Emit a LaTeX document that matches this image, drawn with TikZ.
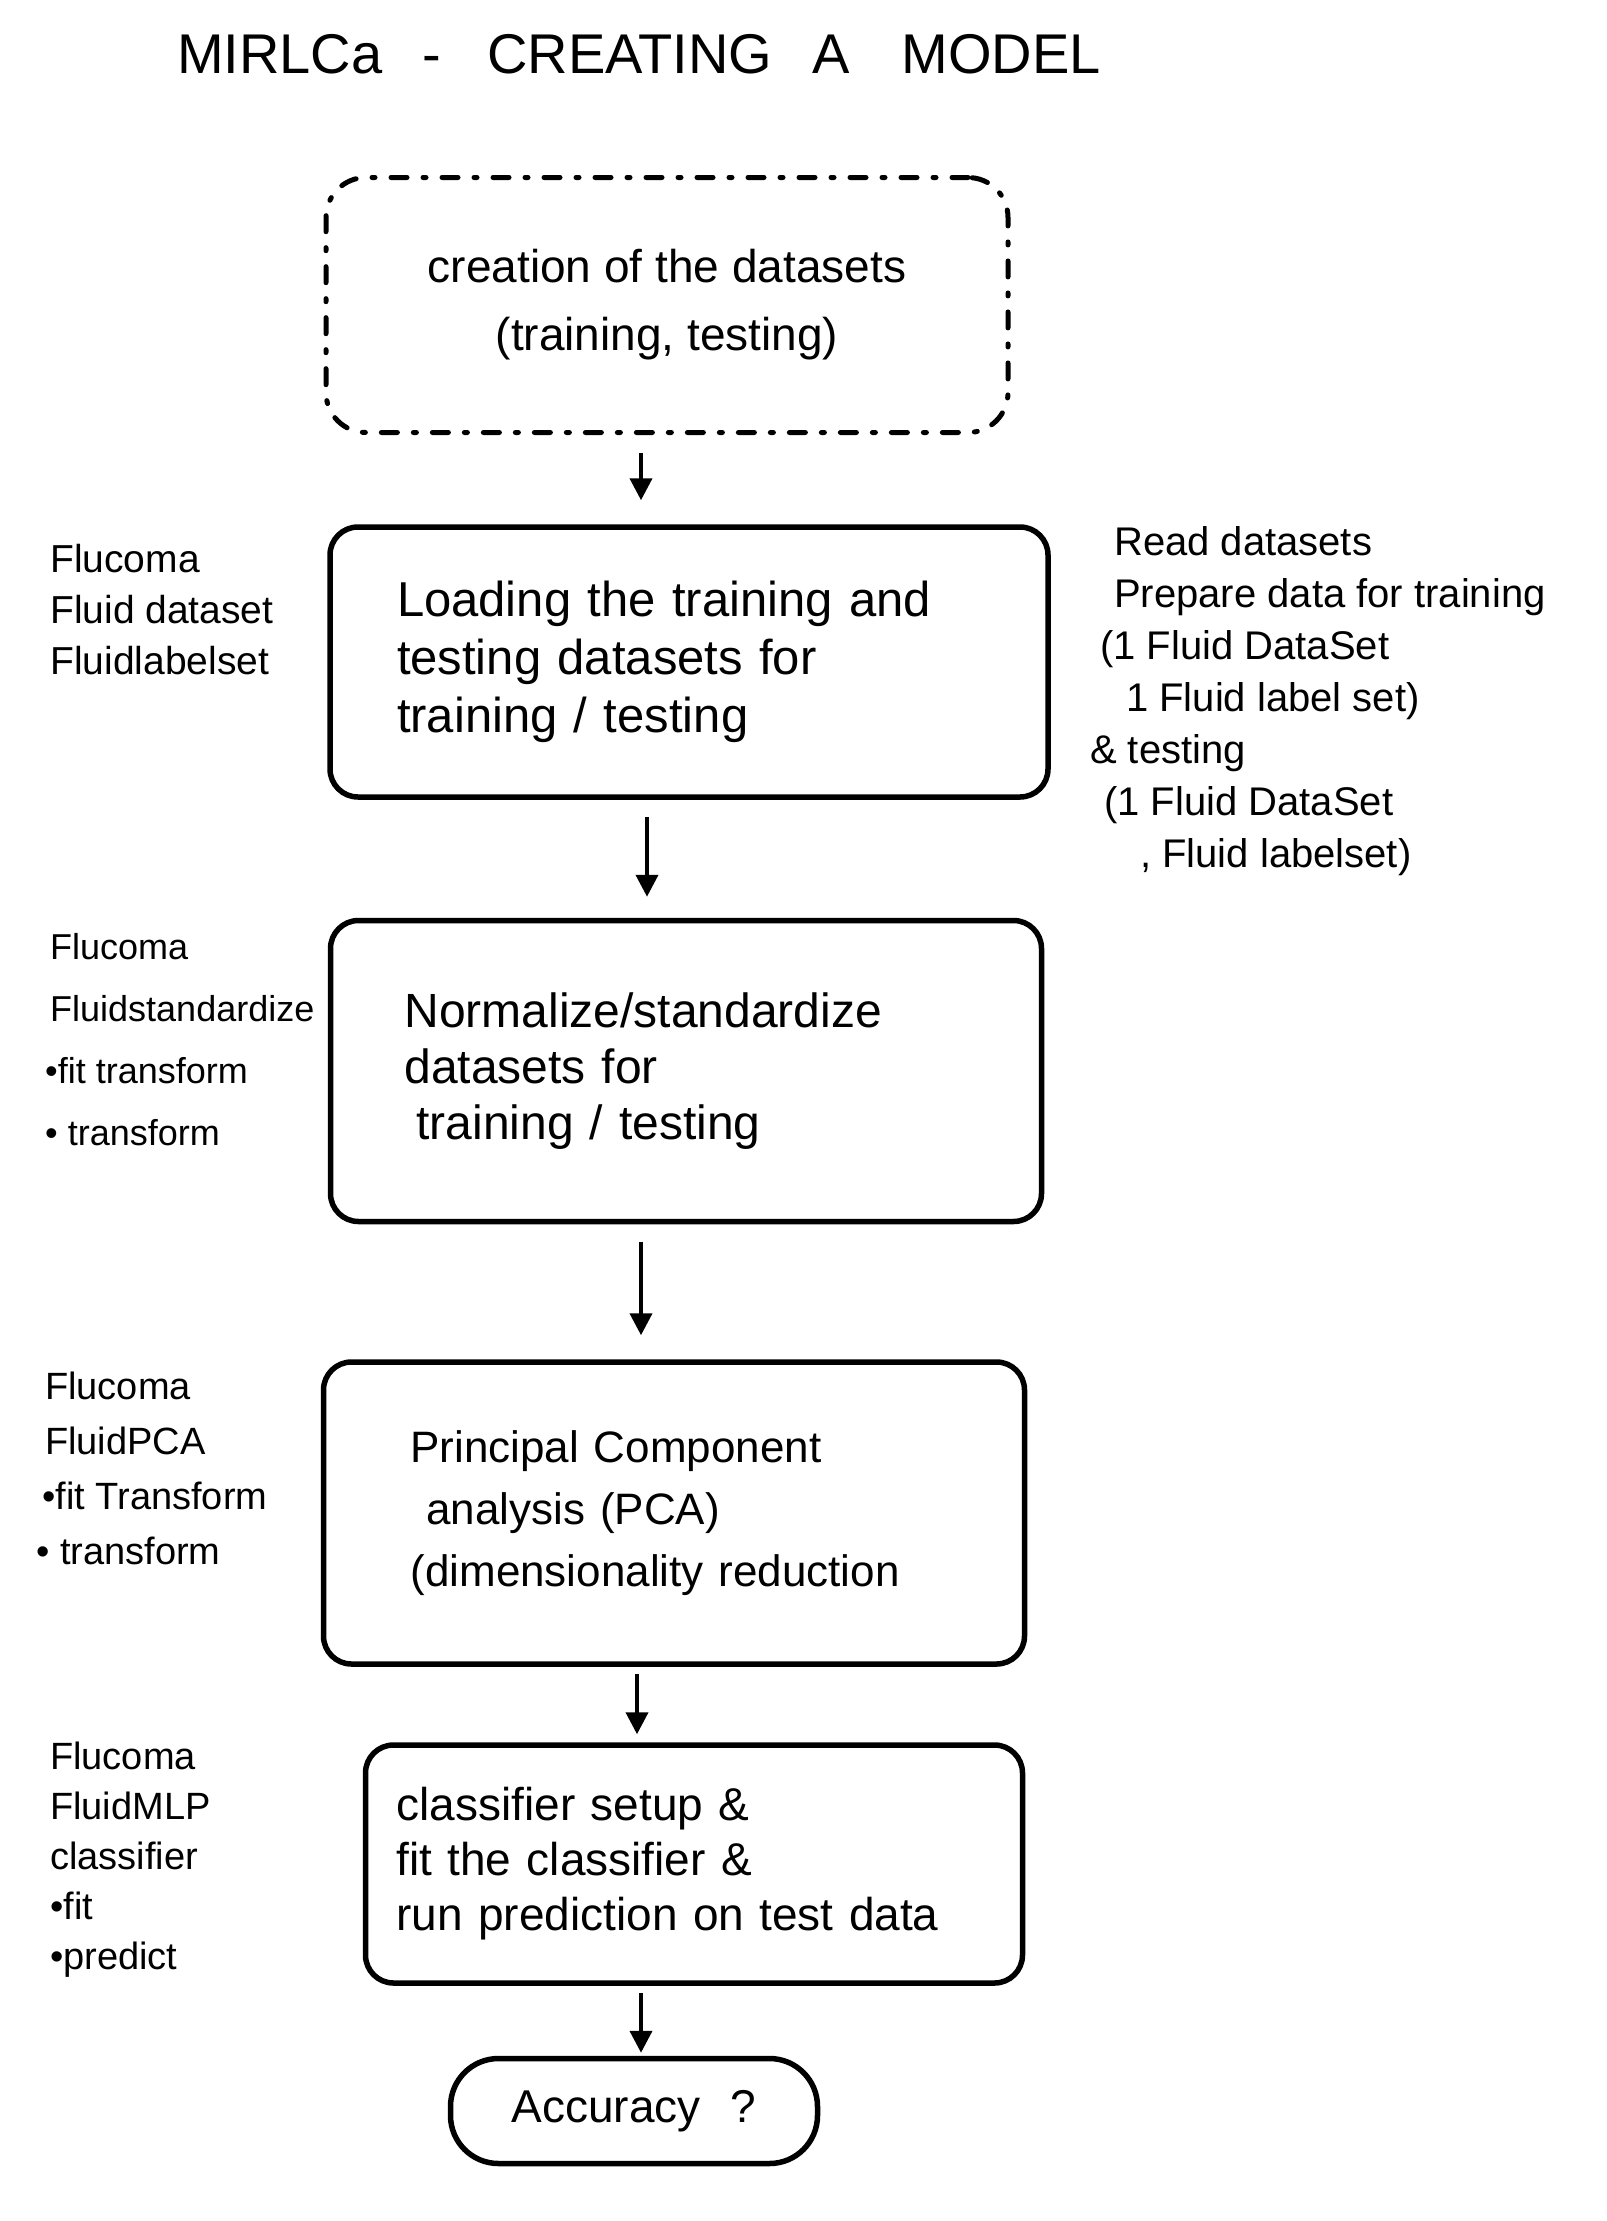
\documentclass[tikz,border=0pt]{standalone}
\usepackage{fontspec}
\setmainfont{Liberation Sans}
\usetikzlibrary{arrows.meta}
\tikzset{
  boxstyle/.style={draw, line width=5.5pt, rounded corners=28pt, align=left, anchor=center},
  dashbox/.style={draw, line width=5pt, line cap=round, rounded corners=40pt,
     dash pattern=on 16pt off 16pt on 3pt off 16pt, align=center,
     font=\fontsize{46}{68}\selectfont},
  sidelabel/.style={align=left, anchor=west, inner sep=0pt},
  arr/.style={line width=4pt, -{Triangle[length=22pt,width=22pt]}},
}
\begin{document}
\begin{tikzpicture}[x=1pt,y=-1pt]
\useasboundingbox (0,0) rectangle (1606,2221);
\fill[white] (0,0) rectangle (1606,2221);

% title
\node[anchor=west, inner sep=0pt, font=\fontsize{56}{60}\selectfont] (title) at (177,54)
  {MIRLCa\hspace{40pt}-\hspace{46pt}CREATING\hspace{40pt}A\hspace{52pt}MODEL};

% boxes
\node[dashbox, minimum width=682pt, minimum height=255pt] (b1) at (667,305)
  {creation of the datasets\\(training, testing)};

\node[boxstyle, font=\fontsize{49}{58}\selectfont, inner xsep=67pt, text width=584pt, minimum height=270pt] (b2) at (689,662)
  {Loading the training and\\testing datasets for\\training / testing};

\node[boxstyle, font=\fontsize{48}{56}\selectfont, inner xsep=74pt, text width=563pt, minimum height=301pt] (b3) at (686,1071)
  {Normalize/standardize\\datasets for\\\hspace*{12pt}training / testing};

\node[boxstyle, font=\fontsize{44}{62}\selectfont, inner xsep=87pt, text width=527pt, minimum height=302pt] (b4) at (674,1513)
  {Principal Component\\\hspace*{16pt}analysis (PCA)\\(dimensionality reduction};

\node[boxstyle, font=\fontsize{46}{55}\selectfont, inner xsep=31pt, text width=595pt, minimum height=238pt] (b5) at (694,1864)
  {classifier setup \&\\fit the classifier \&\\run prediction on test data};

\node[draw, line width=5.5pt, rounded corners=48pt, minimum width=367pt, minimum height=105pt,
      font=\fontsize{46}{58}\selectfont] (b6) at (634,2111)
  {Accuracy\hspace{30pt}?};

% arrows
\coordinate (ax1) at (641,0);
\coordinate (ax2) at (647,0);
\coordinate (ax4) at (637,0);
\draw[arr, shorten <=18pt, shorten >=24pt] (b1.south -| ax1) -- (b2.north -| ax1);
\draw[arr, shorten <=17pt, shorten >=21pt] (b2.south -| ax2) -- (b3.north -| ax2);
\draw[arr, shorten <=18pt, shorten >=24pt] (b3.south -| ax1) -- (b4.north -| ax1);
\draw[arr, shorten <=7pt, shorten >=8pt] (b4.south -| ax4) -- (b5.north -| ax4);
\draw[arr, shorten <=7pt, shorten >=3pt] (b5.south -| ax1) -- (b6.north -| ax1);

% left labels
\node[sidelabel, font=\fontsize{39}{51}\selectfont] (l1) at (50,610)
  {Flucoma\\Fluid dataset\\Fluidlabelset};
\node[sidelabel, font=\fontsize{36}{62}\selectfont] (l2) at (45,1040)
  {\hspace*{5pt}Flucoma\\\hspace*{5pt}Fluidstandardize\\•fit transform\\• transform};
\node[sidelabel, font=\fontsize{38}{55}\selectfont] (l3) at (36,1468)
  {\hspace*{9pt}Flucoma\\\hspace*{9pt}FluidPCA\\\hspace*{6pt}•fit Transform\\• transform};
\node[sidelabel, font=\fontsize{38}{50}\selectfont] (l4) at (50,1860)
  {Flucoma\\FluidMLP\\classifier\\•fit\\•predict};

% right labels
\node[sidelabel, font=\fontsize{40}{52}\selectfont] (r1) at (1090,701)
  {\hspace*{24pt}Read datasets\\\hspace*{24pt}Prepare data for training\\\hspace*{10pt}(1 Fluid DataSet\\\hspace*{36pt}1 Fluid label set)\\\& testing\\\hspace*{14pt}(1 Fluid DataSet\\\hspace*{50pt}, Fluid labelset)};
\end{tikzpicture}
\end{document}
